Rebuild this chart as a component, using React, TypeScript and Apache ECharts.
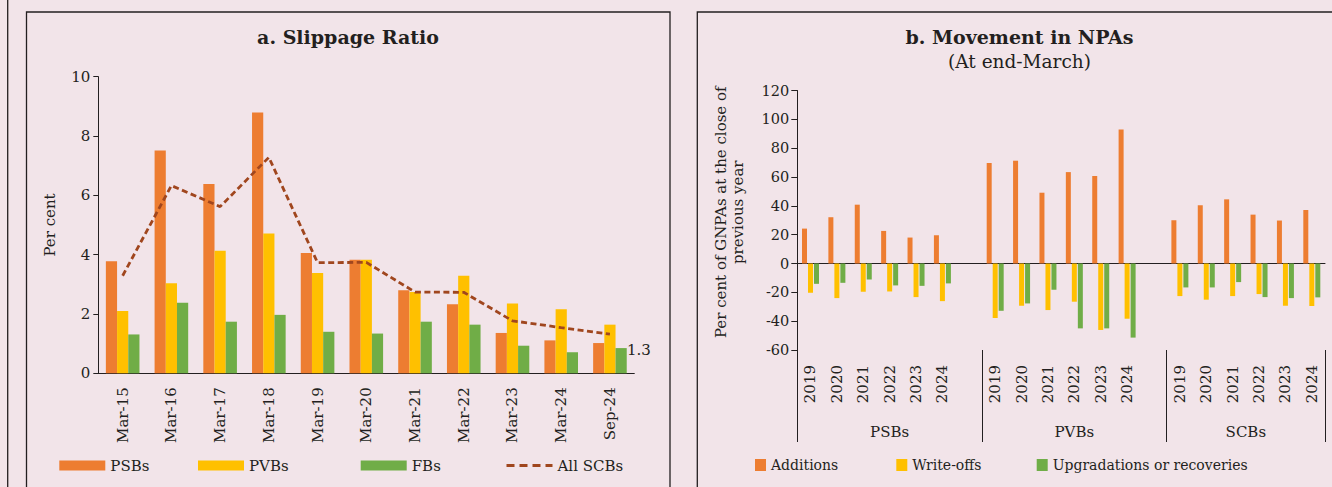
import { useEffect, useRef } from 'react';
import * as echarts from 'echarts';

// Panel a: slippage ratio (per cent)
const slipCategories = ['Mar-15', 'Mar-16', 'Mar-17', 'Mar-18', 'Mar-19', 'Mar-20', 'Mar-21', 'Mar-22', 'Mar-23', 'Mar-24', 'Sep-24'];
const psbSlippage = [3.78, 7.51, 6.38, 8.79, 4.06, 3.83, 2.8, 2.33, 1.36, 1.11, 1.02];
const pvbSlippage = [2.1, 3.04, 4.13, 4.71, 3.38, 3.83, 2.74, 3.29, 2.35, 2.16, 1.64];
const fbSlippage = [1.31, 2.38, 1.74, 1.97, 1.4, 1.34, 1.74, 1.64, 0.93, 0.71, 0.85];
const scbSlippage = [3.29, 6.33, 5.62, 7.28, 3.73, 3.74, 2.74, 2.73, 1.77, 1.54, 1.32];
const slipTicks = [0, 10, 2];

// Panel b: movement in NPAs (per cent of GNPAs at the close of previous year)
const npaYears = ['2019', '2020', '2021', '2022', '2023', '2024'];
const npaGroups = ['PSBs', 'PVBs', 'SCBs'];
const psbAdditions = [24.2, 32.1, 40.8, 22.6, 18.0, 19.6];
const pvbAdditions = [69.7, 71.3, 49.1, 63.4, 60.7, 93.0];
const scbAdditions = [30.0, 40.4, 44.5, 33.9, 29.8, 37.1];
const psbWriteOffs = [-20.3, -24.0, -19.6, -19.4, -23.3, -26.1];
const pvbWriteOffs = [-37.8, -29.3, -32.3, -26.5, -46.1, -38.3];
const scbWriteOffs = [-22.6, -25.1, -22.6, -21.2, -29.3, -29.5];
const psbUpgrades = [-14.1, -13.4, -11.1, -15.2, -15.5, -13.8];
const pvbUpgrades = [-32.8, -27.7, -18.2, -45.0, -45.0, -51.4];
const scbUpgrades = [-16.6, -16.6, -12.9, -23.3, -24.0, -23.5];
const npaTicks = [-60, 120, 20];

const FONT = 'DejaVu Serif';
const INK = '#231F20';
const BG = '#F2E4E9';
const ORANGE = '#ED7D31';
const YELLOW = '#FFC000';
const GREEN = '#70AD47';
const BROWN = '#A0461E';

// Each bank group gets its six years; a blank slot separates the groups.
const groupSizes = npaGroups.map((_, i) => (i < npaGroups.length - 1 ? npaYears.length + 1 : npaYears.length));
const slotKeys: string[] = [];
npaGroups.forEach((g, gi) => {
  npaYears.forEach((y) => slotKeys.push(`${g}|${y}`));
  if (gi < npaGroups.length - 1) slotKeys.push(`${g}|gap`);
});
const groupBounds: number[] = [0];
groupSizes.forEach((s) => groupBounds.push(groupBounds[groupBounds.length - 1] + s));
const groupCentres = npaGroups.map((_, i) => (groupBounds[i] + groupBounds[i + 1]) / 2);

function spread(groups: number[][]): (number | null)[] {
  const out: (number | null)[] = [];
  groups.forEach((vals, gi) => {
    vals.forEach((v) => out.push(v));
    if (gi < groups.length - 1) out.push(null);
  });
  return out;
}

const txt = (size: number, extra: Record<string, unknown> = {}) => ({
  fontFamily: FONT,
  fontSize: size,
  color: INK,
  ...extra,
});

function legendAt(item: unknown, left: number, top: number, w: number, h: number, size: number) {
  return {
    data: [item],
    left,
    top,
    padding: 0,
    itemWidth: w,
    itemHeight: h,
    itemGap: 0,
    textStyle: txt(size),
    selectedMode: false,
  };
}

function buildOption() {
  return {
    animation: false,
    backgroundColor: BG,
    textStyle: { fontFamily: FONT },
    grid: [
      { left: 98.3, top: 76.7, width: 536, height: 296.6 },
      { left: 797.3, top: 90.5, width: 527.7, height: 259.5 },
    ],
    legend: [
      legendAt({ name: 'PSBs', icon: 'rect' }, 59.3, 458, 46, 10, 15),
      legendAt({ name: 'PVBs', icon: 'rect' }, 198, 458, 46, 10, 15),
      legendAt({ name: 'FBs', icon: 'rect' }, 360.7, 458, 46, 10, 15),
      {
        ...legendAt({ name: 'All SCBs', itemStyle: { opacity: 0 } }, 505, 458, 46, 10, 15),
        lineStyle: { width: 3, type: [8, 5] },
      },
      legendAt({ name: 'Additions', icon: 'rect' }, 755, 458, 11, 12, 14),
      legendAt({ name: 'Write-offs', icon: 'rect' }, 896.3, 458, 11, 12, 14),
      legendAt({ name: 'Upgradations or recoveries', icon: 'rect' }, 1036.7, 458, 11, 12, 14),
    ],
    xAxis: [
      {
        type: 'category',
        gridIndex: 0,
        data: slipCategories,
        axisLine: { lineStyle: { color: INK, width: 1 } },
        axisTick: { length: 5, lineStyle: { color: INK } },
        axisLabel: { ...txt(15), rotate: 90, margin: 14, interval: 0 },
      },
      {
        type: 'category',
        gridIndex: 1,
        data: slotKeys,
        axisLine: { onZero: true, lineStyle: { color: INK, width: 1 } },
        axisTick: { length: 5, interval: 0, lineStyle: { color: INK } },
        axisLabel: { show: false },
      },
      {
        type: 'category',
        gridIndex: 1,
        data: slotKeys,
        position: 'bottom',
        axisLine: { show: false, onZero: false },
        axisTick: { length: 55, interval: 0, lineStyle: { color: INK } },
        axisLabel: {
          ...txt(15),
          rotate: 90,
          margin: 15,
          interval: 0,
          formatter: (v: string) => {
            const y = v.split('|')[1];
            return y === 'gap' ? '' : y;
          },
        },
      },
      {
        type: 'value',
        gridIndex: 1,
        min: 0,
        max: groupBounds[groupBounds.length - 1],
        position: 'bottom',
        axisLine: { show: false, onZero: false },
        splitLine: { show: false },
        axisTick: { show: true, length: 92, customValues: groupBounds, lineStyle: { color: INK } },
        axisLabel: {
          ...txt(15),
          margin: 74,
          customValues: groupCentres,
          formatter: (v: number) => {
            const i = groupCentres.findIndex((c) => Math.abs(c - v) < 0.01);
            return i >= 0 ? npaGroups[i] : '';
          },
        },
      },
    ],
    yAxis: [
      {
        type: 'value',
        gridIndex: 0,
        min: slipTicks[0],
        max: slipTicks[1],
        interval: slipTicks[2],
        axisLine: { show: true, onZero: false, lineStyle: { color: INK, width: 1 } },
        axisTick: { show: true, length: 5, lineStyle: { color: INK } },
        splitLine: { show: false },
        axisLabel: { ...txt(15), margin: 8 },
        name: 'Per cent',
        nameLocation: 'middle',
        nameGap: 41,
        nameTextStyle: txt(15),
      },
      {
        type: 'value',
        gridIndex: 1,
        min: npaTicks[0],
        max: npaTicks[1],
        interval: npaTicks[2],
        axisLine: { show: true, onZero: false, lineStyle: { color: INK, width: 1 } },
        axisTick: { show: true, length: 6, lineStyle: { color: INK } },
        splitLine: { show: false },
        axisLabel: { ...txt(14.5), margin: 8 },
        name: 'Per cent of GNPAs at the close of\nprevious year',
        nameLocation: 'middle',
        nameGap: 51,
        nameTextStyle: txt(15, { lineHeight: 17, padding: [0, 0, 0, 16] }),
      },
    ],
    series: [
      {
        name: 'PSBs',
        type: 'bar',
        xAxisIndex: 0,
        yAxisIndex: 0,
        data: psbSlippage,
        barWidth: 11.2,
        barGap: 0,
        itemStyle: { color: ORANGE },
      },
      {
        name: 'PVBs',
        type: 'bar',
        xAxisIndex: 0,
        yAxisIndex: 0,
        data: pvbSlippage,
        barWidth: 11.2,
        barGap: 0,
        itemStyle: { color: YELLOW },
      },
      {
        name: 'FBs',
        type: 'bar',
        xAxisIndex: 0,
        yAxisIndex: 0,
        data: fbSlippage,
        barWidth: 11.2,
        barGap: 0,
        itemStyle: { color: GREEN },
      },
      {
        name: 'All SCBs',
        type: 'line',
        xAxisIndex: 0,
        yAxisIndex: 0,
        symbol: 'none',
        z: 5,
        lineStyle: { color: BROWN, width: 2.8, type: [6, 3.5] },
        itemStyle: { color: BROWN },
        data: scbSlippage,
        endLabel: {
          show: true,
          offset: [9, 16],
          ...txt(15),
          formatter: (p: { value: number }) => Number(p.value).toFixed(1),
        },
      },
      {
        name: 'Additions',
        type: 'bar',
        xAxisIndex: 1,
        yAxisIndex: 1,
        data: spread([psbAdditions, pvbAdditions, scbAdditions]),
        barWidth: 5,
        barGap: '20%',
        itemStyle: { color: ORANGE },
      },
      {
        name: 'Write-offs',
        type: 'bar',
        xAxisIndex: 1,
        yAxisIndex: 1,
        data: spread([psbWriteOffs, pvbWriteOffs, scbWriteOffs]),
        barWidth: 5,
        barGap: '20%',
        itemStyle: { color: YELLOW },
      },
      {
        name: 'Upgradations or recoveries',
        type: 'bar',
        xAxisIndex: 1,
        yAxisIndex: 1,
        data: spread([psbUpgrades, pvbUpgrades, scbUpgrades]),
        barWidth: 5,
        barGap: '20%',
        itemStyle: { color: GREEN },
      },
    ],
    graphic: [
      { type: 'line', shape: { x1: 7.7, y1: 0, x2: 7.7, y2: 487 }, style: { stroke: INK, lineWidth: 1.3 }, silent: true },
      {
        type: 'rect',
        shape: { x: 26.5, y: 12, width: 643.5, height: 520 },
        style: { fill: 'transparent', stroke: INK, lineWidth: 1.3 },
        silent: true,
      },
      {
        type: 'rect',
        shape: { x: 697.3, y: 12, width: 700, height: 520 },
        style: { fill: 'transparent', stroke: INK, lineWidth: 1.3 },
        silent: true,
      },
      {
        type: 'text',
        x: 348,
        y: 37,
        style: { text: 'a. Slippage Ratio', fontFamily: FONT, fontSize: 19, fontWeight: 'bold', fill: INK, align: 'center', verticalAlign: 'middle' },
      },
      {
        type: 'text',
        x: 1019.5,
        y: 37,
        style: { text: 'b. Movement in NPAs', fontFamily: FONT, fontSize: 19, fontWeight: 'bold', fill: INK, align: 'center', verticalAlign: 'middle' },
      },
      {
        type: 'text',
        x: 1019.5,
        y: 61,
        style: { text: '(At end-March)', fontFamily: FONT, fontSize: 18.5, fill: INK, align: 'center', verticalAlign: 'middle' },
      },
    ],
  };
}

export default function App() {
  const ref = useRef<HTMLDivElement>(null);
  useEffect(() => {
    document.body.style.margin = '0';
    const chart = echarts.init(ref.current as HTMLDivElement, null, { renderer: 'svg' });
    chart.setOption(buildOption() as echarts.EChartsOption);
    return () => chart.dispose();
  }, []);
  return <div ref={ref} style={{ width: 1332, height: 487 }} />;
}
